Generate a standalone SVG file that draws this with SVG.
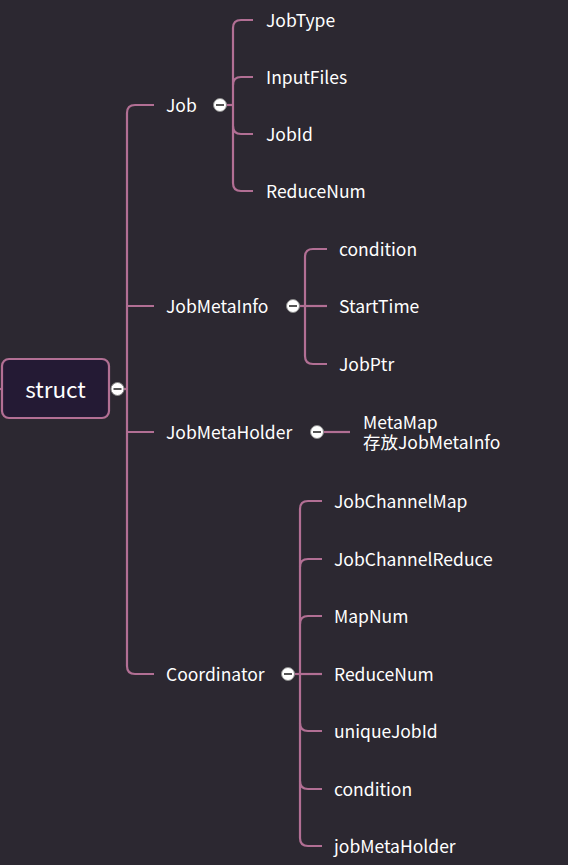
<svg xmlns="http://www.w3.org/2000/svg" width="568" height="865" viewBox="0 0 568 865">
<style>
.bg{fill:#2c2831}
.ln{fill:none;stroke:#b26f94;stroke-width:2.2}
.t{font-family:"Noto Sans CJK SC","Noto Sans",sans-serif;font-size:17.5px;fill:#ffffff;dominant-baseline:central}
.rt{font-family:"Noto Sans CJK SC","Noto Sans",sans-serif;font-size:22.5px;fill:#ffffff;dominant-baseline:central;text-anchor:middle}
.btn circle{fill:#ffffff;stroke:#8a8a8a;stroke-width:1}
.btn line{stroke:#555;stroke-width:2}
</style>
<defs>
<g id="col" class="btn"><circle r="6.5"/><line x1="-4" y1="0" x2="4" y2="0"/></g>
</defs>
<rect class="bg" width="568" height="865"/>
<g id="connectors">
<path class="ln" d="M0 389H3"/>
<path class="ln" d="M124 389H127"/>
<path class="ln" d="M154 105H135Q127 105 127 113V666Q127 674 135 674H154"/>
<path class="ln" d="M127 306H154M127 432H154"/>
<path class="ln" d="M226 105H233"/>
<path class="ln" d="M253 20H241Q233 20 233 28V183Q233 191 241 191H253"/>
<path class="ln" d="M253 77H241Q233 77 233 85M253 134H241Q233 134 233 126"/>
<path class="ln" d="M299 306H327"/>
<path class="ln" d="M327 249H313Q305 249 305 257V356Q305 364 313 364H327"/>
<path class="ln" d="M323 432H350"/>
<path class="ln" d="M294 674H322"/>
<path class="ln" d="M322 501H308Q300 501 300 509V838Q300 846 308 846H322"/>
<path class="ln" d="M322 559H308Q300 559 300 567M322 616H308Q300 616 300 624M322 731H308Q300 731 300 723M322 789H308Q300 789 300 781"/>
</g>
<g id="root">
<rect x="2" y="359" width="107" height="59" rx="7" fill="#241a34" stroke="#b26f94" stroke-width="2.2"/>
<text class="rt" x="55.5" y="388">struct</text>
<use href="#col" x="117.5" y="389"/>
</g>
<g id="job">
<text class="t" x="166" y="104">Job</text>
<use href="#col" x="220" y="105"/>
</g>
<g id="jobType"><text class="t" x="266" y="19">JobType</text></g>
<g id="inputFiles"><text class="t" x="266" y="76">InputFiles</text></g>
<g id="jobId"><text class="t" x="266" y="133">JobId</text></g>
<g id="jobReduceNum"><text class="t" x="266" y="190">ReduceNum</text></g>
<g id="jobMetaInfo">
<text class="t" x="166" y="305">JobMetaInfo</text>
<use href="#col" x="293" y="306"/>
</g>
<g id="jmiCondition"><text class="t" x="339" y="248">condition</text></g>
<g id="startTime"><text class="t" x="339" y="305">StartTime</text></g>
<g id="jobPtr"><text class="t" x="339" y="363">JobPtr</text></g>
<g id="jobMetaHolder">
<text class="t" x="166" y="431">JobMetaHolder</text>
<use href="#col" x="317" y="432"/>
</g>
<g id="metaMap"><text class="t" x="363" y="421">MetaMap</text><text class="t" x="363" y="441.5">存放JobMetaInfo</text></g>
<g id="coordinator">
<text class="t" x="166" y="673">Coordinator</text>
<use href="#col" x="288" y="674"/>
</g>
<g id="jobChannelMap"><text class="t" x="334" y="500">JobChannelMap</text></g>
<g id="jobChannelReduce"><text class="t" x="334" y="558">JobChannelReduce</text></g>
<g id="mapNum"><text class="t" x="334" y="615">MapNum</text></g>
<g id="coReduceNum"><text class="t" x="334" y="673">ReduceNum</text></g>
<g id="uniqueJobId"><text class="t" x="334" y="730">uniqueJobId</text></g>
<g id="coCondition"><text class="t" x="334" y="788">condition</text></g>
<g id="jobMetaHolderField"><text class="t" x="334" y="845">jobMetaHolder</text></g>
</svg>
